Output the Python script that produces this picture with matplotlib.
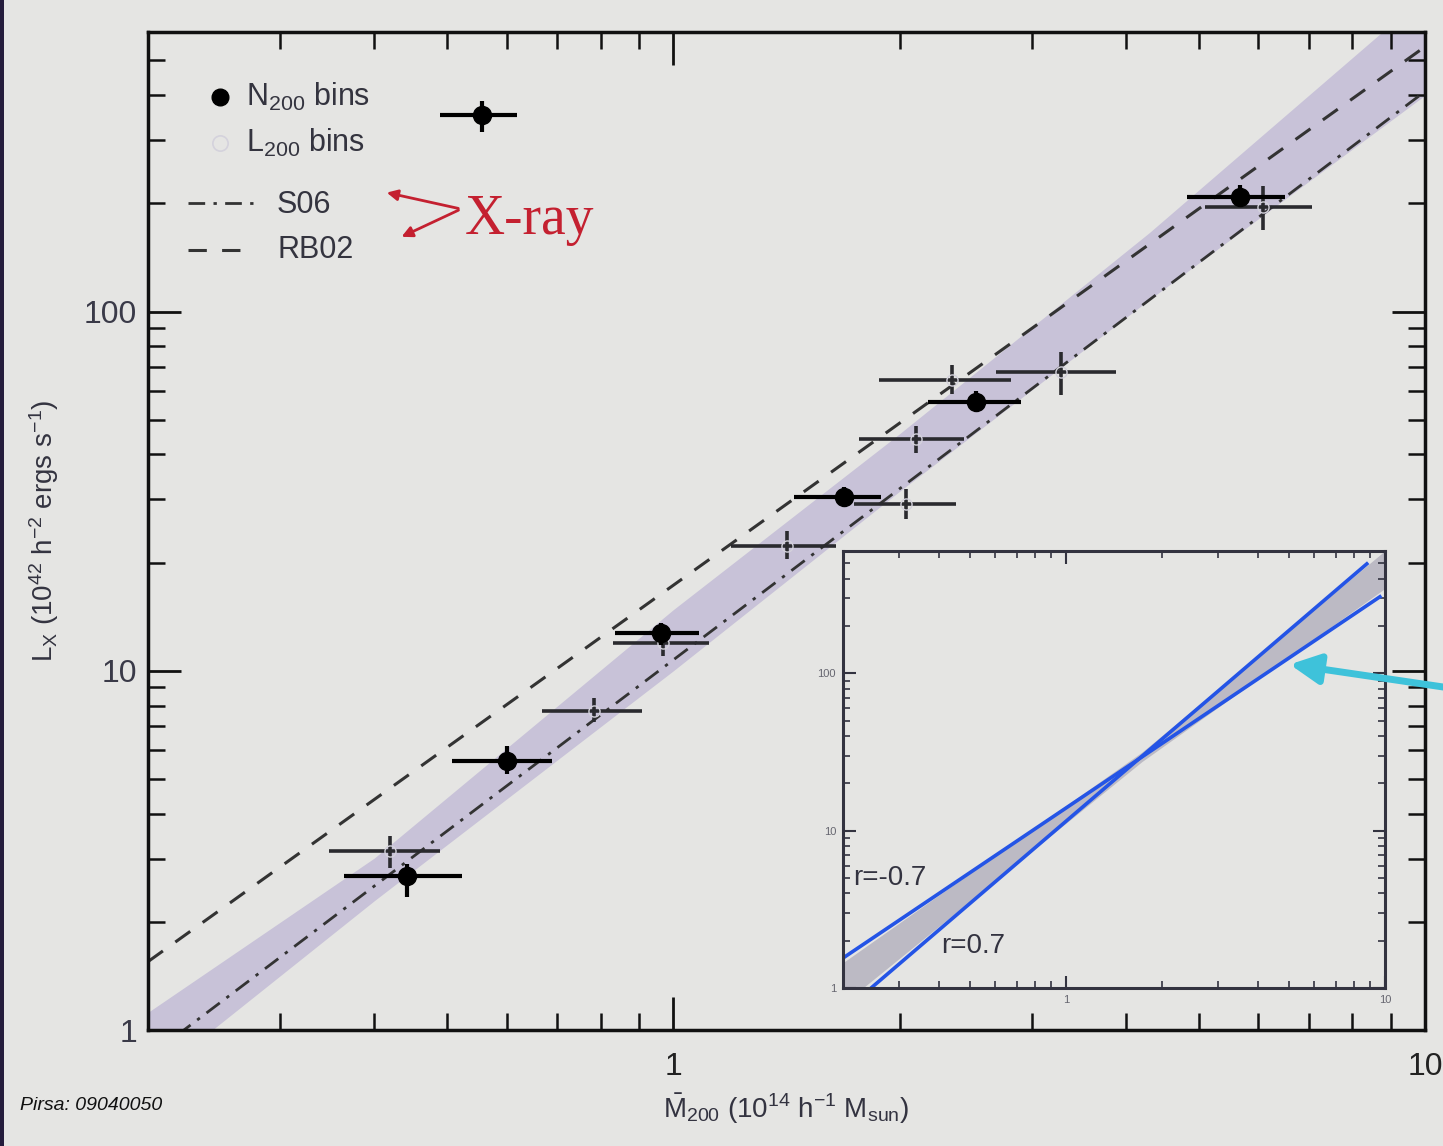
import matplotlib
matplotlib.use("Agg")
import matplotlib.pyplot as plt
import numpy as np
from matplotlib.patches import Rectangle
from matplotlib.ticker import LogLocator, NullFormatter, FixedLocator, FixedFormatter

# ---------------- data ----------------
# N200 bins (filled)
n_x = [0.556, 0.442, 0.600, 0.964, 1.687, 2.526, 5.68]
n_y = [353.0, 2.68, 5.61, 12.7, 30.4, 56.1, 208.0]
n_xlo = [0.489, 0.365, 0.507, 0.835, 1.448, 2.18, 4.83]
n_xhi = [0.619, 0.523, 0.689, 1.083, 1.889, 2.90, 6.52]
n_ylo = [316.0, 2.35, 5.16, 11.8, 28.5, 53.0, 195.0]
n_yhi = [386.0, 2.89, 6.17, 13.6, 32.5, 60.0, 225.0]

# L200 bins (open)
l_x = [0.420, 0.785, 0.97, 1.417, 2.04, 2.10, 2.35, 3.28, 6.09]
l_y = [3.14, 7.73, 11.97, 22.2, 29.1, 44.2, 64.6, 68.0, 195.0]
l_xlo = [0.348, 0.668, 0.832, 1.194, 1.74, 1.766, 1.878, 2.685, 5.10]
l_xhi = [0.489, 0.907, 1.116, 1.646, 2.376, 2.435, 2.81, 3.875, 7.08]
l_ylo = [2.82, 7.2, 11.0, 20.5, 26.5, 40.5, 59.0, 58.6, 169.0]
l_yhi = [3.46, 8.4, 13.0, 24.5, 32.0, 48.0, 71.0, 77.3, 223.0]

# X-ray relations (straight lines in log-log, end points)
rb02_x = [0.2, 10.0]
rb02_y = [1.55, 546.0]
s06_x = [0.2, 10.0]
s06_y = [0.84, 410.0]

# shaded fit region (edges)
band_x = [0.2, 0.4, 1.0, 2.0, 4.3, 10.0]
band_lo = [0.72, 2.29, 10.0, 31.6, 108.0, 400.0]
band_hi = [1.12, 3.01, 14.8, 45.7, 166.0, 760.0]

# inset
in_neg_x = [0.2, 9.64]
in_neg_y = [1.55, 307.0]
in_pos_x = [0.245, 8.77]
in_pos_y = [1.0, 497.0]
in_band_x = [0.2, 1.73, 10.0]
in_band_lo = [0.79, 27.5, 347.0]
in_band_hi = [1.45, 31.6, 603.0]

W, H = 1443, 1146
BG = "#e5e5e3"
plt.rcParams["font.family"] = ["Liberation Sans", "DejaVu Sans"]
plt.rcParams["mathtext.default"] = "regular"

fig = plt.figure(figsize=(W / 100, H / 100), dpi=100, facecolor=BG)

def fx(px):
    return px / W

def fy(py):
    return 1 - py / H

ax = fig.add_axes([fx(148), fy(1030), (1425 - 148) / W, (1030 - 32) / H])
ax.set_facecolor(BG)
ax.set_xscale("log")
ax.set_yscale("log")
ax.set_xlim(0.2, 10)
ax.set_ylim(1, 600)

ax.fill_between(band_x, band_lo, band_hi, color="#c8c2d8", lw=0, zorder=1)
ax.plot(rb02_x, rb02_y, color="#333333", lw=2.2, dashes=(6, 5), zorder=2)
ax.plot(s06_x, s06_y, color="#333333", lw=2.0, dashes=(6, 3, 1.2, 3), zorder=2)

def asym(v, lo, hi):
    v = np.array(v); lo = np.array(lo); hi = np.array(hi)
    return [v - lo, hi - v]

ax.errorbar(l_x, l_y, xerr=asym(l_x, l_xlo, l_xhi), yerr=asym(l_y, l_ylo, l_yhi),
            fmt="none", ecolor="#2a2a2e", elinewidth=2.6, capsize=0, zorder=3)
ax.plot(l_x, l_y, "o", ms=8, mfc="none", mec="#d4d2dc", mew=1.0, zorder=3)
ax.errorbar(n_x, n_y, xerr=asym(n_x, n_xlo, n_xhi), yerr=asym(n_y, n_ylo, n_yhi),
            fmt="o", ms=13, color="black", ecolor="black", elinewidth=3, capsize=0, zorder=4)

for s in ax.spines.values():
    s.set_linewidth(2.5)
    s.set_color("#111111")
ax.tick_params(which="both", direction="in", top=True, right=True, color="#111111")
ax.tick_params(which="major", length=24, width=2)
ax.tick_params(which="minor", length=12, width=1.8)
ax.xaxis.set_major_locator(FixedLocator([1, 10]))
ax.xaxis.set_major_formatter(FixedFormatter(["1", "10"]))
ax.xaxis.set_minor_locator(LogLocator(base=10, subs=np.arange(2, 10)))
ax.xaxis.set_minor_formatter(NullFormatter())
ax.yaxis.set_major_locator(FixedLocator([1, 10, 100]))
ax.yaxis.set_major_formatter(FixedFormatter(["1", "10", "100"]))
ax.yaxis.set_minor_locator(LogLocator(base=10, subs=np.arange(2, 10)))
ax.yaxis.set_minor_formatter(NullFormatter())
ax.tick_params(axis="x", which="major", pad=16, labelsize=23, labelcolor="#222222")
ax.tick_params(axis="y", which="major", pad=8, labelsize=23, labelcolor="#3a3a48")

ax.set_xlabel(r"$\bar{M}_{200}$ (10$^{14}$ h$^{-1}$ M$_{sun}$)", fontsize=20, color="#333340")
ax.xaxis.set_label_coords(0.5, -0.062)
ax.set_ylabel(r"L$_X$ (10$^{42}$ h$^{-2}$ ergs s$^{-1}$)", fontsize=20, color="#333340")
ax.yaxis.set_label_coords(-0.068, 0.5)

# legend drawn by hand
fig.lines.append(plt.Line2D([fx(220)], [fy(97)], marker="o", ms=12, color="black",
                            transform=fig.transFigure))
fig.lines.append(plt.Line2D([fx(220)], [fy(143)], marker="o", ms=11, mfc="none",
                            mec="#d4d2dc", mew=1.2, transform=fig.transFigure))
fig.lines.append(plt.Line2D([fx(188), fx(253)], [fy(203), fy(203)], color="#333333",
                            lw=2.0, dashes=(6, 3, 1.2, 3), transform=fig.transFigure))
fig.lines.append(plt.Line2D([fx(188), fx(253)], [fy(250), fy(250)], color="#333333",
                            lw=2.2, dashes=(6, 5), transform=fig.transFigure))
leg_col = "#34343f"
fig.text(fx(246), fy(97), r"N$_{200}$ bins", fontsize=22, color=leg_col, va="center")
fig.text(fx(246), fy(143), r"L$_{200}$ bins", fontsize=22, color=leg_col, va="center")
fig.text(fx(277), fy(205), "S06", fontsize=22, color=leg_col, va="center")
fig.text(fx(277), fy(250), "RB02", fontsize=22, color=leg_col, va="center")

# red annotation
red = "#c42030"
for hx, hy in [(384, 192), (399, 238)]:
    fig.patches.append(matplotlib.patches.FancyArrowPatch(
        (fx(461), fy(209)), (fx(hx), fy(hy)), transform=fig.transFigure,
        arrowstyle="-|>", mutation_scale=16, color=red, lw=2))
fig.text(fx(465), fy(234), "X-ray", fontsize=40, color=red,
         family=["Liberation Serif", "DejaVu Serif"], va="baseline")

# inset
ax2 = fig.add_axes([fx(843), fy(988), (1385 - 843) / W, (988 - 551) / H])
ax2.set_facecolor(BG)
ax2.set_xscale("log")
ax2.set_yscale("log")
ax2.set_xlim(0.2, 10)
ax2.set_ylim(1, 600)
ax2.fill_between(in_band_x, in_band_lo, in_band_hi, color="#bcbac4", lw=0, zorder=1)
ax2.plot(in_neg_x, in_neg_y, color="#2454e6", lw=2.6, zorder=2)
ax2.plot(in_pos_x, in_pos_y, color="#2454e6", lw=2.6, zorder=2)
ax2.text(0.215, 5.0, "r=-0.7", fontsize=20, color="#333340", va="center")
ax2.text(0.405, 1.85, "r=0.7", fontsize=20, color="#333340", va="center")
for s in ax2.spines.values():
    s.set_linewidth(2.2)
    s.set_color("#333340")
ax2.tick_params(which="both", direction="in", top=True, right=True, color="#333340")
ax2.tick_params(which="major", length=9, width=1.5, labelsize=8, labelcolor="#666670", pad=5)
ax2.tick_params(which="minor", length=5, width=1.2)
ax2.xaxis.set_major_locator(FixedLocator([1, 10]))
ax2.xaxis.set_major_formatter(FixedFormatter(["1", "10"]))
ax2.xaxis.set_minor_locator(LogLocator(base=10, subs=np.arange(2, 10)))
ax2.xaxis.set_minor_formatter(NullFormatter())
ax2.yaxis.set_major_locator(FixedLocator([1, 10, 100]))
ax2.yaxis.set_major_formatter(FixedFormatter(["1", "10", "100"]))
ax2.yaxis.set_minor_locator(LogLocator(base=10, subs=np.arange(2, 10)))
ax2.yaxis.set_minor_formatter(NullFormatter())

# cyan arrow
fig.patches.append(matplotlib.patches.FancyArrowPatch(
    (fx(1450), fy(688)), (fx(1287), fy(664)), transform=fig.transFigure,
    arrowstyle="-|>", mutation_scale=45, color="#3ec2da", lw=5))

# footer and border
fig.text(fx(20), fy(1106), "Pirsa: 09040050", fontsize=14, style="italic",
         color="#111111", va="center")
fig.patches.append(Rectangle((0, 0), 4 / W, 1, transform=fig.transFigure,
                             color="#241c3c", lw=0))

fig.savefig("out.png", dpi=100, facecolor=BG)
